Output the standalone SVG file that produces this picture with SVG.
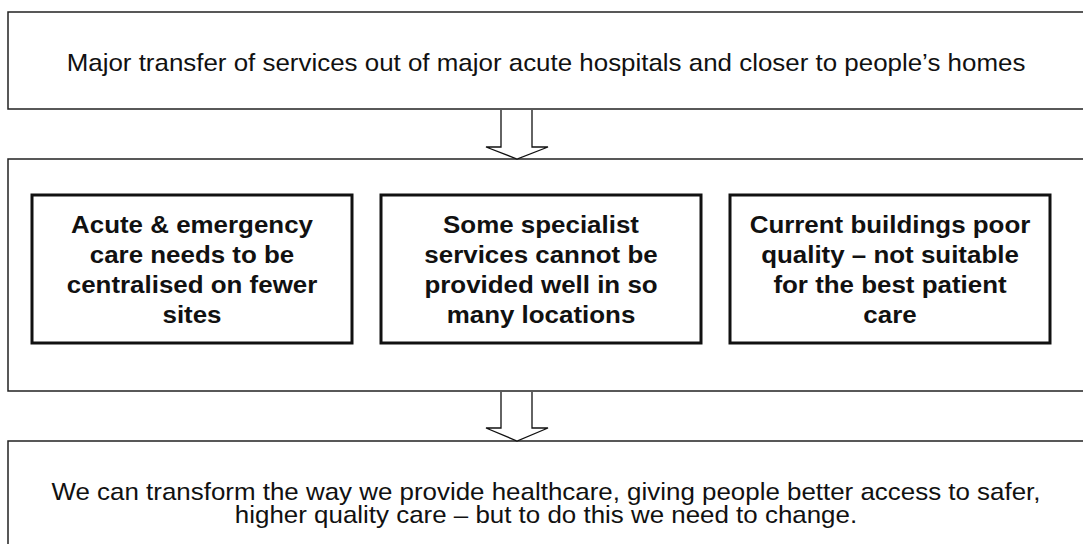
<svg xmlns="http://www.w3.org/2000/svg" width="1083" height="544" viewBox="0 0 1083 544">
<style>
.outer{fill:#fff;stroke:#222;stroke-width:1.5}
.inner{fill:#fff;stroke:#111;stroke-width:3}
.arrow{fill:#fff;stroke:#111;stroke-width:1.3;stroke-linejoin:miter}
.t{font-family:"Liberation Sans",Arial,sans-serif;font-size:24px;fill:#111;text-anchor:middle}
.b{font-family:"Liberation Sans",Arial,sans-serif;font-size:24px;font-weight:bold;fill:#111;text-anchor:middle}
</style>
<rect width="1083" height="544" fill="#fff"/>
<g id="top">
<rect class="outer" x="8" y="12" width="1085" height="97"/>
<text class="t" transform="translate(546,0) scale(1.08,1)" x="0" y="71">Major transfer of services out of major acute hospitals and closer to people’s homes</text>
</g>
<g id="middle">
<rect class="outer" x="8" y="159" width="1085" height="232"/>
</g>
<g id="box1">
<rect class="inner" x="32" y="195" width="320" height="148"/>
<text class="b" transform="translate(192,0) scale(1.08,1)" x="0" y="233">Acute &amp; emergency<tspan x="0" y="263">care needs to be</tspan><tspan x="0" y="293">centralised on fewer</tspan><tspan x="0" y="323">sites</tspan></text>
</g>
<g id="box2">
<rect class="inner" x="381" y="195" width="320" height="148"/>
<text class="b" transform="translate(541,0) scale(1.08,1)" x="0" y="233">Some specialist<tspan x="0" y="263">services cannot be</tspan><tspan x="0" y="293">provided well in so</tspan><tspan x="0" y="323">many locations</tspan></text>
</g>
<g id="box3">
<rect class="inner" x="730" y="195" width="320" height="148"/>
<text class="b" transform="translate(890,0) scale(1.08,1)" x="0" y="233">Current buildings poor<tspan x="0" y="263">quality – not suitable</tspan><tspan x="0" y="293">for the best patient</tspan><tspan x="0" y="323">care</tspan></text>
</g>
<g id="bottom">
<rect class="outer" x="8" y="441" width="1085" height="120"/>
<text class="t" transform="translate(546,0) scale(1.08,1)" x="0" y="500">We can transform the way we provide healthcare, giving people better access to safer,<tspan x="0" y="523">higher quality care – but to do this we need to change.</tspan></text>
</g>
<g id="connectors">
<path class="arrow" d="M501,110 L501,147 L486,147 L517,159 L548,147 L532,147 L532,110"/>
<path class="arrow" d="M501,392 L501,428 L486,428 L517,441 L548,428 L532,428 L532,392"/>
</g>
</svg>
